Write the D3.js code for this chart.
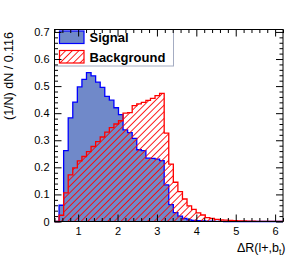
<!DOCTYPE html>
<html>
<head>
<meta charset="utf-8">
<script src="https://cdn.jsdelivr.net/npm/d3@7"></script>
<style>
  body { margin: 0; background: #fff; }
  svg { display: block; font-family: "Liberation Sans", Arial, Helvetica, sans-serif; }
</style>
</head>
<body>
<div id="vis"></div>
<script>
// 50 bins of width 0.116 starting at dR = 0.4
var xMin = 0.4;
var binWidth = 0.116;

// normalised bin contents
var signal = [
  0, 0.06, 0.262, 0.383, 0.441, 0.497, 0.525, 0.55, 0.538, 0.515,
  0.495, 0.462, 0.448, 0.42, 0.395, 0.338, 0.328, 0.307, 0.265, 0.262,
  0.234, 0.233, 0.23, 0.225, 0.135, 0.062, 0.033, 0.02, 0.011, 0.006,
  0.004, 0.003, 0.002, 0.001, 0.001, 0.0005, 0.0005, 0, 0, 0,
  0, 0, 0, 0, 0, 0, 0, 0, 0, 0
];
var background = [
  0, 0.023, 0.106, 0.172, 0.198, 0.224, 0.24, 0.258, 0.277, 0.295,
  0.312, 0.33, 0.347, 0.36, 0.372, 0.4, 0.402, 0.428, 0.434, 0.44,
  0.447, 0.455, 0.465, 0.473, 0.326, 0.212, 0.145, 0.11, 0.083, 0.058,
  0.045, 0.032, 0.024, 0.014, 0.011, 0.008, 0.006, 0.005, 0.004, 0.003,
  0.002, 0.002, 0.001, 0.001, 0.0008, 0.0006, 0.0005, 0.0004, 0.0003, 0.0002
];

var xTicks = [1, 2, 3, 4, 5, 6];
var yTicks = [0, 0.1, 0.2, 0.3, 0.4, 0.5, 0.6, 0.7];
var legendLabels = ['Signal', 'Background'];
var yTitle = '(1/N) dN / 0.116';

var width = 305, height = 262;
var frame = { left: 54.5, right: 283, top: 29.5, bottom: 221.5 };
var xMax = xMin + binWidth * signal.length;

var x = d3.scaleLinear().domain([xMin, xMax]).range([frame.left, frame.right]);
var y = d3.scaleLinear().domain([0, 0.709]).range([frame.bottom, frame.top]);

// minor ticks: 0.2 on x, 0.02 on y
var xMinor = d3.range(2, 32).map(function (i) { return +(i * 0.2).toFixed(1); })
  .filter(function (v) { return Math.abs(v - Math.round(v)) > 1e-6; });
var yMinor = d3.range(0, 36).map(function (i) { return +(i * 0.02).toFixed(2); })
  .filter(function (v) { return Math.abs(v * 10 - Math.round(v * 10)) > 1e-6; });

var svg = d3.select('#vis').append('svg')
  .attr('width', width)
  .attr('height', height);

svg.append('rect').attr('width', width).attr('height', height).attr('fill', '#fff');

// hatch for the background histogram
svg.append('defs').append('pattern')
  .attr('id', 'hatch')
  .attr('patternUnits', 'userSpaceOnUse')
  .attr('width', 4.7)
  .attr('height', 10)
  .attr('patternTransform', 'rotate(45)')
  .append('line')
  .attr('x1', 2.35).attr('y1', -1)
  .attr('x2', 2.35).attr('y2', 11)
  .attr('stroke', '#ff0000')
  .attr('stroke-width', 0.9);

// step outline of a histogram, closed down to zero at both ends
function stepPoints(values) {
  var pts = [[xMin, 0]];
  values.forEach(function (v, i) { pts.push([xMin + i * binWidth, v]); });
  pts.push([xMax, values[values.length - 1]]);
  pts.push([xMax, 0]);
  return pts;
}

var line = d3.line()
  .x(function (d) { return x(d[0]); })
  .y(function (d) { return y(d[1]); })
  .curve(d3.curveStepAfter);

svg.append('path')
  .attr('d', line(stepPoints(signal)))
  .attr('fill', '#7089c9')
  .attr('stroke', '#0000ff')
  .attr('stroke-width', 1.3);

svg.append('path')
  .attr('d', line(stepPoints(background)))
  .attr('fill', 'url(#hatch)')
  .attr('stroke', '#ff0000')
  .attr('stroke-width', 1.3);

// legend
var legend = svg.append('g');
legend.append('rect')
  .attr('x', frame.left).attr('y', frame.top)
  .attr('width', 173.5 - frame.left).attr('height', 66 - frame.top)
  .attr('fill', '#fff')
  .attr('stroke', '#a4acc2')
  .attr('stroke-width', 1);

var swatchFill = ['#7089c9', 'url(#hatch)'];
var swatchLine = ['#0000ff', '#ff0000'];
legendLabels.forEach(function (label, i) {
  var top = 31 + i * 19.5;
  legend.append('rect')
    .attr('x', 59.5).attr('y', top)
    .attr('width', 24.5).attr('height', 12.5)
    .attr('fill', swatchFill[i])
    .attr('stroke', swatchLine[i])
    .attr('stroke-width', 1.2);
  legend.append('text')
    .attr('x', 89.5).attr('y', top + 11)
    .attr('font-size', 13)
    .attr('font-weight', 'bold')
    .text(label);
});

// axes, ROOT style ticks pointing into the frame
function noDomain(g) { g.select('.domain').remove(); }

svg.append('g')
  .attr('transform', 'translate(0,' + frame.bottom + ')')
  .call(d3.axisBottom(x).tickValues(xTicks).tickSizeInner(-7).tickSizeOuter(0).tickPadding(6).tickFormat(d3.format('d')))
  .call(noDomain)
  .call(function (g) { g.selectAll('text').attr('font-size', 11).attr('fill', '#000'); });
svg.append('g')
  .attr('transform', 'translate(0,' + frame.bottom + ')')
  .call(d3.axisBottom(x).tickValues(xMinor).tickSizeInner(-3.5).tickSizeOuter(0).tickFormat(''))
  .call(noDomain);

svg.append('g')
  .attr('transform', 'translate(0,' + frame.top + ')')
  .call(d3.axisTop(x).tickValues(xTicks).tickSizeInner(-7).tickSizeOuter(0).tickFormat(''))
  .call(noDomain);
svg.append('g')
  .attr('transform', 'translate(0,' + frame.top + ')')
  .call(d3.axisTop(x).tickValues(xMinor).tickSizeInner(-3.5).tickSizeOuter(0).tickFormat(''))
  .call(noDomain);

svg.append('g')
  .attr('transform', 'translate(' + frame.left + ',0)')
  .call(d3.axisLeft(y).tickValues(yTicks).tickSizeInner(-7).tickSizeOuter(0).tickPadding(5)
    .tickFormat(function (d) { return d === 0 ? '0' : d3.format('.1f')(d); }))
  .call(noDomain)
  .call(function (g) { g.selectAll('text').attr('font-size', 11).attr('fill', '#000'); });
svg.append('g')
  .attr('transform', 'translate(' + frame.left + ',0)')
  .call(d3.axisLeft(y).tickValues(yMinor).tickSizeInner(-3.5).tickSizeOuter(0).tickFormat(''))
  .call(noDomain);

svg.append('g')
  .attr('transform', 'translate(' + frame.right + ',0)')
  .call(d3.axisRight(y).tickValues(yTicks).tickSizeInner(-7).tickSizeOuter(0).tickFormat(''))
  .call(noDomain);
svg.append('g')
  .attr('transform', 'translate(' + frame.right + ',0)')
  .call(d3.axisRight(y).tickValues(yMinor).tickSizeInner(-3.5).tickSizeOuter(0).tickFormat(''))
  .call(noDomain);

svg.selectAll('.tick line').attr('stroke', '#000');

// frame
svg.append('rect')
  .attr('x', frame.left).attr('y', frame.top)
  .attr('width', frame.right - frame.left).attr('height', frame.bottom - frame.top)
  .attr('fill', 'none')
  .attr('stroke', '#000')
  .attr('stroke-width', 1);

// axis titles
svg.append('text')
  .attr('transform', 'translate(13,' + (frame.top + 2.5) + ') rotate(-90)')
  .attr('text-anchor', 'end')
  .attr('font-size', 12.5)
  .text(yTitle);

var xTitle = svg.append('text')
  .attr('x', 285.5).attr('y', 252)
  .attr('text-anchor', 'end')
  .attr('font-size', 12.5);
xTitle.append('tspan').text('\u0394R(l+,b');
xTitle.append('tspan').attr('font-size', 8.5).attr('dy', 3).text('t');
xTitle.append('tspan').attr('dy', -3).text(')');
</script>
</body>
</html>
